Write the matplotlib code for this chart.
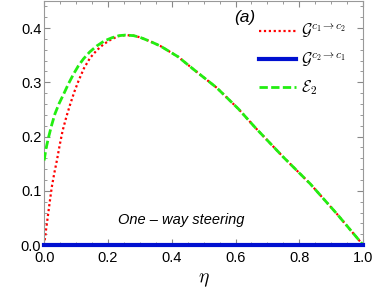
import numpy as np
import matplotlib
matplotlib.use("Agg")
import matplotlib.pyplot as plt
from matplotlib.ticker import MultipleLocator

plt.rcParams["font.family"] = ["Liberation Sans", "DejaVu Sans"]
plt.rcParams["mathtext.fontset"] = "cm"

# ------------------------------------------------------------
# dados
eta_g12 = [0.0, 0.005, 0.01, 0.017, 0.024, 0.032, 0.04, 0.049, 0.058, 0.07, 0.082,
           0.095, 0.108, 0.125, 0.144, 0.165, 0.186, 0.21, 0.233, 0.255, 0.28,
           0.30, 0.33, 0.364, 0.42, 0.468, 0.541, 0.609, 0.661, 0.75, 0.834,
           0.917, 1.0]
g12 = [0.0, 0.024, 0.046, 0.077, 0.107, 0.133, 0.156, 0.185, 0.211, 0.237, 0.26,
       0.283, 0.303, 0.326, 0.345, 0.359, 0.37, 0.379, 0.385, 0.387, 0.386,
       0.383, 0.376, 0.367, 0.347, 0.324, 0.29, 0.251, 0.217, 0.162, 0.113,
       0.058, 0.0]

eta_g21 = [0.0, 1.0]
g21 = [0.0, 0.0]

eta_e2 = [0.0, 0.006, 0.014, 0.024, 0.034, 0.047, 0.061, 0.076, 0.092, 0.107,
          0.123, 0.143, 0.165, 0.188, 0.212, 0.235, 0.255, 0.28, 0.30, 0.33,
          0.364, 0.42, 0.468, 0.541, 0.609, 0.661, 0.75, 0.834, 0.917, 1.0]
e2 = [0.156, 0.178, 0.199, 0.222, 0.242, 0.261, 0.278, 0.297, 0.315, 0.33,
      0.343, 0.356, 0.367, 0.376, 0.382, 0.386, 0.387, 0.386, 0.383, 0.376,
      0.367, 0.347, 0.324, 0.29, 0.251, 0.217, 0.162, 0.113, 0.058, 0.0]

# ------------------------------------------------------------
fig = plt.figure(figsize=(3.74, 3.0), dpi=100)
ax = fig.add_axes([0.118, 0.183, 0.853, 0.814])

ax.plot(eta_g12, g12, color="red", linestyle=(0, (1, 1.2)), linewidth=1.6,
        label=r"$\mathcal{G}^{c_1\rightarrow c_2}$", zorder=2)
ax.plot(eta_g21, g21, color="#0010d0", linestyle="-", linewidth=3,
        label=r"$\mathcal{G}^{c_2\rightarrow c_1}$", clip_on=False, zorder=4)
ax.plot(eta_e2, e2, color="#22ee11", linestyle=(0, (3, 1.2)), linewidth=2,
        label=r"$\mathcal{E}_2$", zorder=3)

ax.set_xlim(0, 1)
ax.set_ylim(0, 0.45)
ax.xaxis.set_major_locator(MultipleLocator(0.2))
ax.xaxis.set_minor_locator(MultipleLocator(0.05))
ax.yaxis.set_major_locator(MultipleLocator(0.1))
ax.yaxis.set_minor_locator(MultipleLocator(0.02))
ax.xaxis.set_major_formatter(plt.FuncFormatter(lambda v, _: f"{v:.1f}"))
ax.yaxis.set_major_formatter(plt.FuncFormatter(lambda v, _: f"{v:.1f}"))

ax.tick_params(which="both", direction="in", top=True, right=True,
               color="#888888", labelsize=10.5)
ax.tick_params(axis="x", pad=4)
ax.tick_params(axis="y", pad=2)
ax.tick_params(which="major", length=4)
ax.tick_params(which="minor", length=2)
for s in ax.spines.values():
    s.set_color("#999999")

ax.set_xlabel(r"$\eta$", fontsize=14, labelpad=5)

ax.text(0.63, 0.42, "(a)", fontsize=12.5, style="italic", ha="center", va="center")
ax.text(0.232, 0.046, "One \u2013 way steering", fontsize=10.5, style="italic",
        ha="left", va="center")

ax.legend(loc="upper right", frameon=False, fontsize=11.5, handlelength=2.3,
          handletextpad=0.3, labelspacing=0.62, borderaxespad=0.0,
          bbox_to_anchor=(0.965, 0.94))

fig.savefig("out.png", dpi=100)
